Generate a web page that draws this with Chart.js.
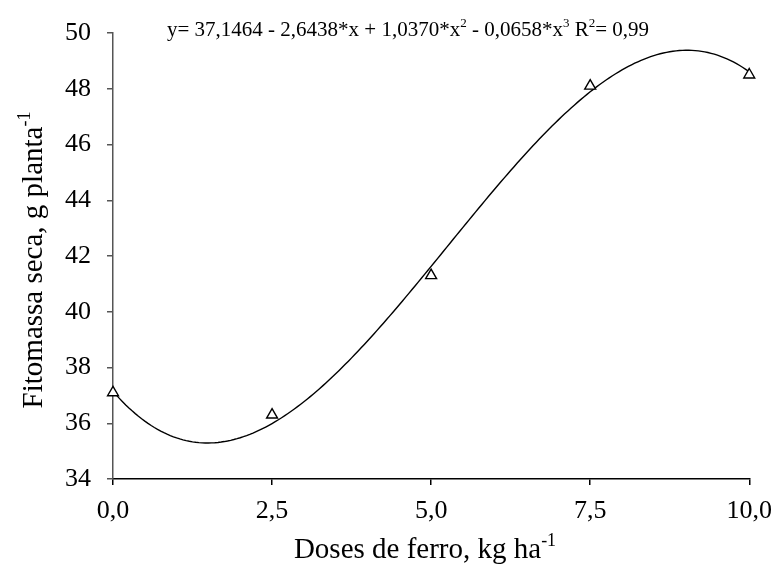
<!DOCTYPE html>
<html>
<head>
<meta charset="utf-8">
<script src="https://cdn.jsdelivr.net/npm/chart.js@4.4.1/dist/chart.umd.min.js"></script>
<style>
  html, body { margin: 0; padding: 0; background: #ffffff; }
  #wrap { width: 783px; height: 579px; }
</style>
</head>
<body>
<div id="wrap"><canvas id="c" width="783" height="579"></canvas></div>
<script>
// Observed dry biomass for each iron dose
const doses = [0, 2.5, 5, 7.5, 10];
const fitomassa = [37.1, 36.3, 41.3, 48.1, 48.5];

// Cubic regression coefficients (y = a + b*x + c*x^2 + d*x^3)
const coefs = [37.1464, -2.6438, 1.0370, -0.0658];
const r2Label = '0,99';

// Axis ticks
const xTickValues = [0, 2.5, 5, 7.5, 10];
const xTickLabels = ['0,0', '2,5', '5,0', '7,5', '10,0'];
const yTickValues = [34, 36, 38, 40, 42, 44, 46, 48, 50];

const SERIF = "'Liberation Serif', 'Times New Roman', Times, serif";

// Fitted curve sampled along the dose range
const curve = [];
for (let i = 0; i <= 200; i++) {
  const x = i * 10 / 200;
  const y = coefs[0] + coefs[1] * x + coefs[2] * x * x + coefs[3] * x * x * x;
  curve.push({ x, y });
}

// Draws a run of text pieces, some of them superscript
function richWidth(ctx, parts, size) {
  let w = 0;
  for (const p of parts) {
    ctx.font = (p.sup ? size * 0.62 : size) + 'px ' + SERIF;
    w += ctx.measureText(p.t).width;
  }
  return w;
}
function drawRich(ctx, parts, x, y, size) {
  ctx.textBaseline = 'alphabetic';
  ctx.textAlign = 'left';
  let cx = x;
  for (const p of parts) {
    ctx.font = (p.sup ? size * 0.62 : size) + 'px ' + SERIF;
    ctx.fillText(p.t, cx, p.sup ? y - size * 0.42 : y);
    cx += ctx.measureText(p.t).width;
  }
}

const labelsPlugin = {
  id: 'labels',
  afterDraw(chart) {
    const ctx = chart.ctx;
    ctx.save();
    ctx.fillStyle = '#000';

    // Regression equation
    const eq = [
      { t: 'y= ' + coefs[0].toFixed(4).replace('.', ',') + ' - ' + Math.abs(coefs[1]).toFixed(4).replace('.', ',') + '*x + ' + coefs[2].toFixed(4).replace('.', ',') + '*x' },
      { t: '2', sup: true },
      { t: ' - ' + Math.abs(coefs[3]).toFixed(4).replace('.', ',') + '*x' },
      { t: '3', sup: true },
      { t: ' R' },
      { t: '2', sup: true },
      { t: '= ' + r2Label }
    ];
    drawRich(ctx, eq, 167, 36, 21);

    // X axis title
    const xt = [{ t: 'Doses de ferro, kg ha' }, { t: '-1', sup: true }];
    const xw = richWidth(ctx, xt, 29);
    drawRich(ctx, xt, 425 - xw / 2, 558, 29);

    // Y axis title
    const yt = [{ t: 'Fitomassa seca, g planta' }, { t: '-1', sup: true }];
    const yw = richWidth(ctx, yt, 29);
    ctx.translate(42, 260);
    ctx.rotate(-Math.PI / 2);
    drawRich(ctx, yt, -yw / 2, 0, 29);
    ctx.restore();
  }
};

new Chart(document.getElementById('c'), {
  type: 'scatter',
  data: {
    datasets: [
      {
        label: 'observado',
        data: doses.map((d, i) => ({ x: d, y: fitomassa[i] })),
        pointStyle: 'triangle',
        pointRadius: 6.3,
        pointBackgroundColor: '#ffffff',
        pointBorderColor: '#000000',
        pointBorderWidth: 1.4,
        showLine: false,
        clip: false,
        order: 0
      },
      {
        label: 'ajuste',
        data: curve,
        showLine: true,
        borderColor: '#000000',
        borderWidth: 1.4,
        pointRadius: 0,
        tension: 0,
        clip: false,
        order: 1
      }
    ]
  },
  options: {
    responsive: false,
    animation: false,
    devicePixelRatio: 1,
    layout: { padding: { left: 0, right: 28, top: 33, bottom: 0 } },
    plugins: {
      legend: { display: false },
      tooltip: { enabled: false }
    },
    scales: {
      x: {
        type: 'linear',
        min: 0,
        max: 10,
        afterBuildTicks: (s) => { s.ticks = xTickValues.map(v => ({ value: v })); },
        afterFit: (s) => { s.height = 100; },
        ticks: {
          callback: (v) => xTickLabels[xTickValues.indexOf(v)],
          color: '#000',
          font: { family: SERIF, size: 26 },
          padding: 11,
          maxRotation: 0,
          autoSkip: false
        },
        grid: {
          drawOnChartArea: false,
          drawTicks: true,
          tickLength: 6,
          color: '#000',
          lineWidth: 1.5
        },
        border: { display: true, color: '#000', width: 1.5 }
      },
      y: {
        type: 'linear',
        min: 34,
        max: 50,
        afterBuildTicks: (s) => { s.ticks = yTickValues.map(v => ({ value: v })); },
        afterFit: (s) => { s.width = 113; },
        ticks: {
          color: '#000',
          font: { family: SERIF, size: 26 },
          padding: 16
        },
        grid: {
          drawOnChartArea: false,
          drawTicks: true,
          tickLength: 6,
          color: '#555',
          lineWidth: 1.5
        },
        border: { display: true, color: '#555', width: 1.5 }
      }
    }
  },
  plugins: [labelsPlugin]
});
</script>
</body>
</html>
